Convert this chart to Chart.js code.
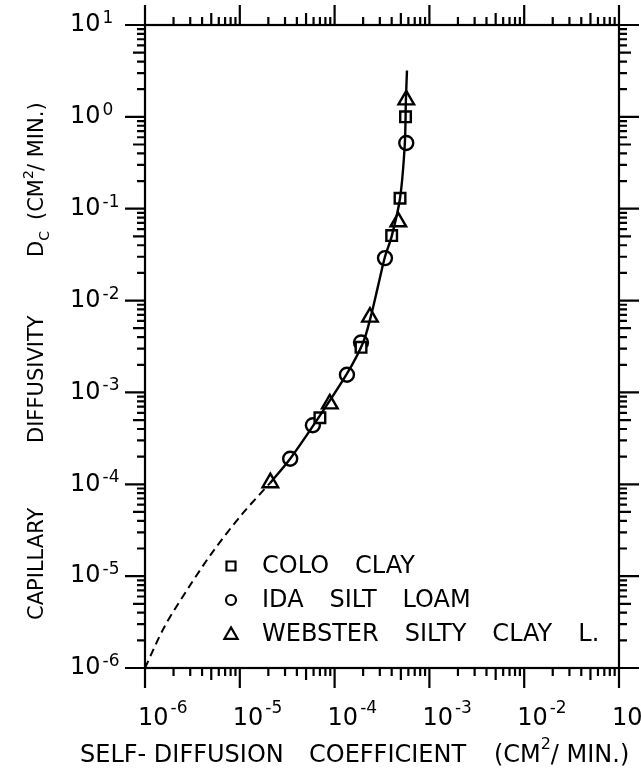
<!DOCTYPE html>
<html>
<head>
<meta charset="utf-8">
<script src="https://cdn.jsdelivr.net/npm/chart.js@4/dist/chart.umd.min.js"></script>
<style>
  html, body { margin: 0; padding: 0; background: #fff; }
  #wrap { width: 641px; height: 773px; position: relative; }
</style>
</head>
<body>
<div id="wrap"><canvas id="chart"></canvas></div>
<script>
// axis ranges (decades)
var xDecades = [-6, -5, -4, -3, -2, -1];
var yDecades = [-6, -5, -4, -3, -2, -1, 0, 1];

// measured points
var coloX = [7.0e-5, 1.9e-4, 4.0e-4, 4.9e-4, 5.6e-4];
var coloY = [5.3e-4, 3.1e-3, 0.051, 0.13, 1.0];
var idaX = [3.4e-5, 5.9e-5, 1.35e-4, 1.9e-4, 3.4e-4, 5.7e-4];
var idaY = [1.9e-4, 4.4e-4, 1.56e-3, 3.5e-3, 0.029, 0.52];
var websterX = [2.1e-5, 8.9e-5, 2.36e-4, 4.7e-4, 5.7e-4];
var websterY = [1.04e-4, 7.5e-4, 6.6e-3, 0.072, 1.53];

// fitted curve (solid) and extrapolation (dashed)
var curveX = [2.1e-5, 3.4e-5, 6.5e-5, 1.35e-4, 2.0e-4, 2.4e-4, 2.9e-4, 3.4e-4, 4.0e-4, 4.9e-4, 5.5e-4, 5.65e-4, 5.8e-4];
var curveY = [1.04e-4, 1.9e-4, 5.0e-4, 1.6e-3, 3.5e-3, 6.6e-3, 0.015, 0.03, 0.05, 0.13, 0.5, 1.5, 3.2];
var dashX = [1e-6, 1.6e-6, 3e-6, 5.3e-6, 1.05e-5, 2.1e-5];
var dashY = [1e-6, 2.8e-6, 8e-6, 1.9e-5, 4.7e-5, 1.04e-4];

var legendLabels = [['COLO', 'CLAY'], ['IDA', 'SILT', 'LOAM'], ['WEBSTER', 'SILTY', 'CLAY', 'L.']];
var legendStyles = ['rect', 'circle', 'triangle'];

var FONT = '"DejaVu Sans", sans-serif';

function pts(xs, ys) {
  return xs.map(function(x, i) { return { x: x, y: ys[i] }; });
}

function drawMarker(ctx, style, x, y, r) {
  ctx.beginPath();
  if (style === 'rect') {
    ctx.rect(x - r, y - r, 2 * r, 2 * r);
  } else if (style === 'circle') {
    ctx.arc(x, y, r, 0, Math.PI * 2);
  } else {
    ctx.moveTo(x, y - r * 1.1);
    ctx.lineTo(x + r * 1.1, y + r * 0.8);
    ctx.lineTo(x - r * 1.1, y + r * 0.8);
    ctx.closePath();
  }
  ctx.stroke();
}

function drawWords(ctx, words, x, y, gap) {
  words.forEach(function(w) {
    ctx.fillText(w, x, y);
    x += ctx.measureText(w).width + gap;
  });
}

var framePlugin = {
  id: 'frame',
  afterDraw: function(chart) {
    var ctx = chart.ctx;
    var a = chart.chartArea;
    var xs = chart.scales.x, ys = chart.scales.y;
    ctx.save();
    ctx.strokeStyle = '#000';
    ctx.fillStyle = '#000';
    ctx.lineWidth = 2.2;
    ctx.lineCap = 'butt';
    ctx.strokeRect(a.left, a.top, a.right - a.left, a.bottom - a.top);

    function len(m) { return m === 1 ? 20 : (m === 5 ? 12 : 8); }

    // x ticks, top and bottom, outward
    xDecades.forEach(function(d) {
      for (var m = 1; m <= 9; m++) {
        var v = m * Math.pow(10, d);
        if (v > xs.max * 1.0001) break;
        var px = xs.getPixelForValue(v);
        var l = len(m);
        ctx.beginPath();
        ctx.moveTo(px, a.bottom); ctx.lineTo(px, a.bottom + l);
        ctx.moveTo(px, a.top); ctx.lineTo(px, a.top - l);
        ctx.stroke();
      }
    });
    // y ticks, left and right, outward
    yDecades.forEach(function(d) {
      for (var m = 1; m <= 9; m++) {
        var v = m * Math.pow(10, d);
        if (v > ys.max * 1.0001) break;
        var py = ys.getPixelForValue(v);
        var l = len(m);
        ctx.beginPath();
        ctx.moveTo(a.left, py); ctx.lineTo(a.left - l, py);
        ctx.moveTo(a.right, py); ctx.lineTo(a.right + l, py);
        ctx.stroke();
      }
    });

    // tick labels 10^n
    xDecades.forEach(function(d) {
      var px = xs.getPixelForValue(Math.pow(10, d));
      ctx.font = '24px ' + FONT;
      ctx.textBaseline = 'middle';
      ctx.textAlign = 'left';
      var w = ctx.measureText('10').width;
      ctx.fillText('10', px - 7, 719);
      ctx.font = '17px ' + FONT;
      ctx.textBaseline = 'alphabetic';
      ctx.fillText(String(d), px - 7 + w + 2, 713);
    });
    yDecades.forEach(function(d) {
      var py = ys.getPixelForValue(Math.pow(10, d));
      ctx.font = '24px ' + FONT;
      ctx.textBaseline = 'middle';
      ctx.textAlign = 'left';
      var w = ctx.measureText('10').width;
      ctx.fillText('10', 70, py);
      ctx.font = '17px ' + FONT;
      ctx.textBaseline = 'alphabetic';
      ctx.fillText(String(d), 70 + w + 2, py - 2);
    });

    // x axis title
    ctx.font = '24px ' + FONT;
    ctx.textBaseline = 'middle';
    ctx.fillText('SELF- DIFFUSION', 80, 756);
    ctx.fillText('COEFFICIENT', 309, 756);
    ctx.fillText('(CM', 494, 756);
    var cw = ctx.measureText('(CM').width;
    ctx.font = '16px ' + FONT;
    ctx.fillText('2', 494 + cw, 745);
    ctx.font = '24px ' + FONT;
    ctx.fillText('/ MIN.)', 494 + cw + 10, 756);

    // y axis title (rotated)
    ctx.save();
    ctx.translate(38, 0);
    ctx.rotate(-Math.PI / 2);
    ctx.font = '21px ' + FONT;
    ctx.textBaseline = 'middle';
    ctx.fillText('CAPILLARY', -620, 0);
    ctx.fillText('DIFFUSIVITY', -443, 0);
    ctx.fillText('D', -257, 0);
    var dw = ctx.measureText('D').width;
    ctx.font = '14px ' + FONT;
    ctx.fillText('C', -257 + dw, 7);
    ctx.font = '21px ' + FONT;
    ctx.fillText('(CM', -220, 0);
    var cw2 = ctx.measureText('(CM').width;
    ctx.font = '14px ' + FONT;
    ctx.fillText('2', -220 + cw2, -9);
    ctx.font = '21px ' + FONT;
    ctx.fillText('/ MIN.)', -220 + cw2 + 8, 0);
    ctx.restore();

    // legend
    var rows = [566, 600, 634];
    ctx.lineWidth = 2.2;
    ctx.font = '24px ' + FONT;
    ctx.textBaseline = 'middle';
    legendLabels.forEach(function(words, i) {
      drawMarker(ctx, legendStyles[i], 231, rows[i], legendStyles[i] === 'triangle' ? 6 : (legendStyles[i] === 'rect' ? 4.5 : 5));
      drawWords(ctx, words, 262, rows[i] + 1, 26);
    });
    ctx.restore();
  }
};

var markerBase = {
  showLine: false,
  borderColor: '#000',
  backgroundColor: '#fff',
  borderWidth: 2.4,
  pointBorderWidth: 2.4
};

new Chart(document.getElementById('chart'), {
  type: 'scatter',
  data: {
    datasets: [
      { label: 'curve', data: pts(curveX, curveY), showLine: true, tension: 0.3,
        borderColor: '#000', borderWidth: 2.4, pointRadius: 0, fill: false },
      { label: 'extrapolated', data: pts(dashX, dashY), showLine: true, tension: 0.3,
        borderColor: '#000', borderWidth: 2, borderDash: [8, 5], pointRadius: 0, fill: false },
      Object.assign({ label: 'COLO CLAY', data: pts(coloX, coloY), pointStyle: 'rect', pointRadius: 7.5 }, markerBase),
      Object.assign({ label: 'IDA SILT LOAM', data: pts(idaX, idaY), pointStyle: 'circle', pointRadius: 7 }, markerBase),
      Object.assign({ label: 'WEBSTER SILTY CLAY L.', data: pts(websterX, websterY), pointStyle: 'triangle', pointRadius: 9 }, markerBase)
    ]
  },
  options: {
    responsive: true,
    maintainAspectRatio: false,
    animation: false,
    layout: { padding: { left: 145, right: 22, top: 25, bottom: 105 } },
    plugins: { legend: { display: false }, tooltip: { enabled: false } },
    scales: {
      x: { type: 'logarithmic', min: 1e-6, max: 1e-1, display: false },
      y: { type: 'logarithmic', min: 1e-6, max: 1e1, display: false }
    }
  },
  plugins: [framePlugin]
});
</script>
</body>
</html>
